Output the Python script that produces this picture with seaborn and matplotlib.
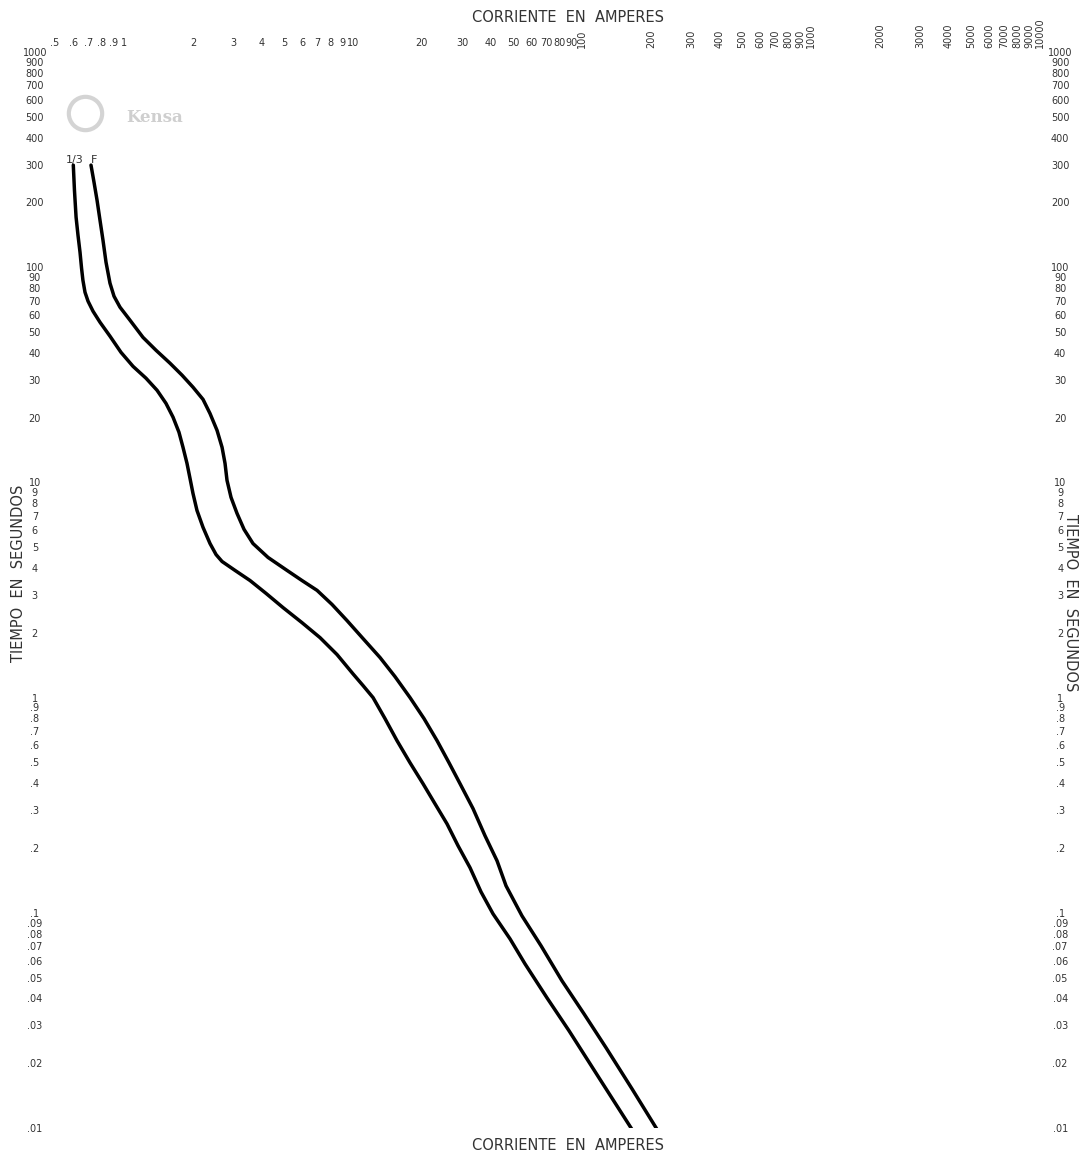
import pandas as pd
import matplotlib
matplotlib.use("Agg")
import matplotlib.pyplot as plt
from matplotlib.lines import Line2D
import seaborn as sns

# Curve values (current in A, time in s)
corriente_13 = [0.601, 0.608, 0.618, 0.630, 0.643, 0.653, 0.662, 0.676, 0.697, 0.733,
                0.786, 0.869, 0.971, 1.096, 1.248, 1.395, 1.526, 1.638, 1.739, 1.811,
                1.885, 1.943, 2.002, 2.084, 2.215, 2.376, 2.525, 2.682, 3.055, 3.553,
                4.173, 4.950, 5.99, 7.18, 8.52, 10.0, 11.07, 12.24, 13.80, 15.57,
                17.75, 20.23, 22.82, 25.75, 28.76, 32.45, 36.25, 40.89, 48.5, 56.4,
                70.4, 87.8, 121.1, 167.1]
tiempo_13 = [298.1, 228, 170.8, 140.9, 117.4, 98.9, 87.0, 76.5, 69.5, 62.4,
             55.5, 47.8, 40.2, 34.6, 30.5, 26.8, 23.3, 20.1, 17.1, 14.55,
             12.26, 10.44, 8.89, 7.41, 6.18, 5.20, 4.62, 4.29, 3.90, 3.50,
             3.05, 2.62, 2.23, 1.90, 1.585, 1.29, 1.137, 1.0, 0.799, 0.631,
             0.498, 0.398, 0.321, 0.259, 0.205, 0.162, 0.125, 0.0989, 0.0757, 0.0579,
             0.0402, 0.0283, 0.01654, 0.00968]

corriente_f = [0.718, 0.740, 0.763, 0.786, 0.810, 0.835, 0.869, 0.905, 0.961, 1.063,
               1.211, 1.381, 1.589, 1.793, 2.002, 2.215, 2.376, 2.550, 2.682, 2.763,
               2.819, 2.935, 3.117, 3.345, 3.660, 4.258, 5.153, 5.99, 6.97, 8.10,
               9.42, 11.07, 13.13, 15.26, 17.75, 20.43, 23.29, 26.27, 29.35, 33.44,
               37.73, 42.57, 46.6, 54.7, 66.3, 81.8, 102.1, 127.4, 165.4, 214.9]
tiempo_f = [298.1, 248.5, 204.9, 165.4, 133.5, 105.5, 84.3, 73.3, 65.2, 56.7,
            47.2, 41.1, 35.8, 31.5, 27.7, 24.3, 20.9, 17.45, 14.55, 12.26,
            10.22, 8.52, 7.18, 6.05, 5.20, 4.48, 3.90, 3.50, 3.15, 2.71,
            2.28, 1.88, 1.535, 1.252, 1.0, 0.799, 0.631, 0.498, 0.398, 0.305,
            0.228, 0.1745, 0.1335, 0.0968, 0.0702, 0.0483, 0.0339, 0.0236, 0.0152, 0.00968]

# Tick positions and labels
x_ticks = [0.5, 0.6, 0.7, 0.8, 0.9, 1, 2, 3, 4, 5, 6, 7, 8, 9,
           10, 20, 30, 40, 50, 60, 70, 80, 90,
           100, 200, 300, 400, 500, 600, 700, 800, 900,
           1000, 2000, 3000, 4000, 5000, 6000, 7000, 8000, 9000, 10000]
x_labels = [".5", ".6", ".7", ".8", ".9", "1", "2", "3", "4", "5", "6", "7", "8", "9",
            "10", "20", "30", "40", "50", "60", "70", "80", "90",
            "100", "200", "300", "400", "500", "600", "700", "800", "900",
            "1000", "2000", "3000", "4000", "5000", "6000", "7000", "8000", "9000", "10000"]

y_ticks = [0.01, 0.02, 0.03, 0.04, 0.05, 0.06, 0.07, 0.08, 0.09,
           0.1, 0.2, 0.3, 0.4, 0.5, 0.6, 0.7, 0.8, 0.9,
           1, 2, 3, 4, 5, 6, 7, 8, 9,
           10, 20, 30, 40, 50, 60, 70, 80, 90,
           100, 200, 300, 400, 500, 600, 700, 800, 900, 1000]
y_labels = [".01", ".02", ".03", ".04", ".05", ".06", ".07", ".08", ".09",
            ".1", ".2", ".3", ".4", ".5", ".6", ".7", ".8", ".9",
            "1", "2", "3", "4", "5", "6", "7", "8", "9",
            "10", "20", "30", "40", "50", "60", "70", "80", "90",
            "100", "200", "300", "400", "500", "600", "700", "800", "900", "1000"]

df = pd.concat([
    pd.DataFrame({"curva": "1/3", "corriente": corriente_13, "tiempo": tiempo_13}),
    pd.DataFrame({"curva": "F", "corriente": corriente_f, "tiempo": tiempo_f}),
])

sns.set_style("white")
plt.rcParams["font.family"] = ["DejaVu Sans"]

W, H = 1082, 1153
fig = plt.figure(figsize=(W / 100, H / 100), dpi=100)
ax = fig.add_axes([55 / W, 25 / H, 985 / W, 1076 / H])

sns.lineplot(data=df, x="corriente", y="tiempo", hue="curva",
             palette=["black", "black"], sort=False, estimator=None,
             legend=False, linewidth=2.5, ax=ax)
for ln in ax.lines:
    ln.set_solid_joinstyle("round")
    ln.set_solid_capstyle("round")

ax.set_xscale("log")
ax.set_yscale("log")
ax.set_xlim(0.5, 10000)
ax.set_ylim(0.01, 1000)
ax.set_xticks(x_ticks, x_labels)
ax.set_yticks(y_ticks, y_labels)
ax.minorticks_off()
ax.set_xlabel("")
ax.set_ylabel("")
for s in ax.spines.values():
    s.set_visible(False)

ax.xaxis.tick_top()
ax.tick_params(axis="x", length=0, pad=3, labelsize=7, colors="#333333")
ax.tick_params(axis="y", length=0, pad=14.5, labelsize=7, colors="#333333",
               labelleft=True, labelright=True)

for v, t in zip(x_ticks, ax.xaxis.get_major_ticks()):
    if v >= 100:
        t.label2.set_rotation(90)
for t in ax.yaxis.get_major_ticks():
    t.label1.set_horizontalalignment("center")
    t.label2.set_horizontalalignment("center")

# curve labels
ax.text(0.61, 300, "1/3", ha="center", va="bottom", fontsize=8, color="#333333")
ax.text(0.74, 300, "F", ha="center", va="bottom", fontsize=8, color="#333333")

# axis titles
fig.text(568 / W, 1 - 17 / H, "CORRIENTE  EN  AMPERES", ha="center", va="center",
         fontsize=10.5, color="#333333")
fig.text(568 / W, 1 - 1145 / H, "CORRIENTE  EN  AMPERES", ha="center", va="center",
         fontsize=10.5, color="#333333")
fig.text(19 / W, 1 - 573 / H, "TIEMPO  EN  SEGUNDOS", ha="center", va="center",
         rotation=90, fontsize=10.5, color="#333333")
fig.text(1071 / W, 1 - 603 / H, "TIEMPO  EN  SEGUNDOS", ha="center", va="center",
         rotation=-90, fontsize=10.5, color="#333333")

# faded logo
fig.add_artist(Line2D([85 / W], [1 - 113 / H], marker="o", markersize=24,
                      markerfacecolor="none", markeredgecolor="#d4d4d4",
                      markeredgewidth=3, transform=fig.transFigure))
fig.text(155 / W, 1 - 118 / H, "Kensa", ha="center", va="center", fontsize=12,
         family="DejaVu Serif", fontweight="bold", color="#cfcfcf")

fig.savefig("out.png", dpi=100)
